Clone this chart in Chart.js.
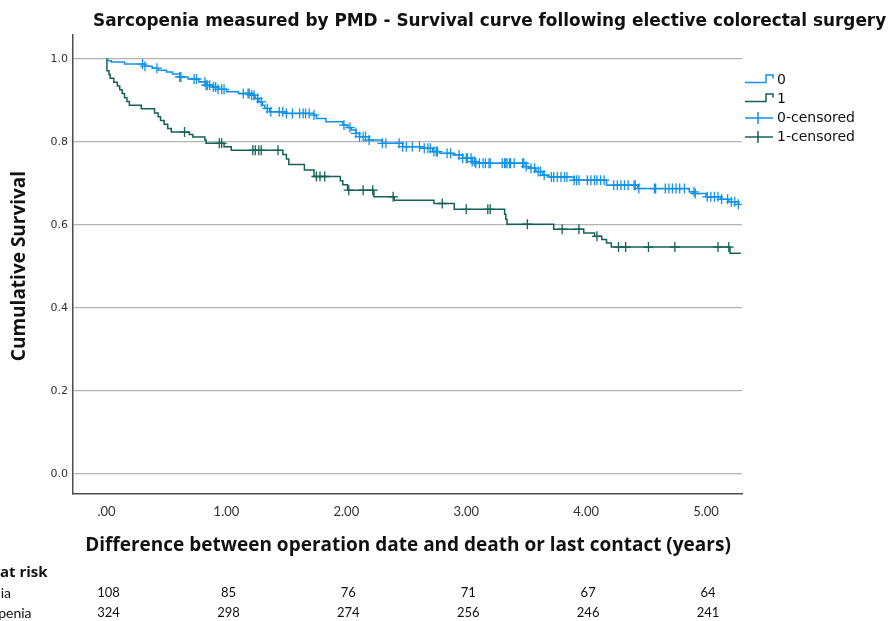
<!DOCTYPE html>
<html>
<head>
<meta charset="utf-8">
<title>Sarcopenia measured by PMD - Survival curve</title>
<script src="https://cdn.jsdelivr.net/npm/chart.js@4.4.1/dist/chart.umd.min.js"></script>
<style>
  html, body { margin: 0; padding: 0; background: #fff; }
  #wrap { width: 891px; height: 621px; position: relative; }
</style>
</head>
<body>
<div id="wrap"><canvas id="kmChart"></canvas></div>
<script>
// --------------------
// DATA
// --------------------
// group 0 = no sarcopenia (blue), group 1 = sarcopenia (teal)
const blueTimes = [0, 0.01, 0.04, 0.15, 0.32, 0.38, 0.43, 0.50, 0.55, 0.61, 0.68, 0.77, 0.83, 0.88, 0.93, 1.00,
  1.10, 1.20, 1.24, 1.27, 1.30, 1.32, 1.36, 1.50, 1.73, 1.75, 1.83, 1.97, 2.01, 2.04, 2.08, 2.11, 2.19, 2.30,
  2.47, 2.62, 2.72, 2.78, 2.89, 2.97, 3.05, 3.08, 3.50, 3.52, 3.58, 3.64, 3.69, 3.90, 4.17, 4.43, 4.86, 4.91,
  5.00, 5.12, 5.19, 5.27, 5.28];
const blueSurv = [1, 0.996, 0.993, 0.988, 0.983, 0.978, 0.973, 0.969, 0.964, 0.957, 0.952, 0.945, 0.937, 0.933, 0.927, 0.921,
  0.917, 0.913, 0.905, 0.897, 0.889, 0.881, 0.873, 0.869, 0.865, 0.857, 0.849, 0.841, 0.835, 0.829, 0.821, 0.813, 0.805, 0.797,
  0.789, 0.785, 0.777, 0.773, 0.769, 0.761, 0.753, 0.749, 0.741, 0.737, 0.729, 0.720, 0.716, 0.708, 0.696, 0.688, 0.680, 0.676,
  0.668, 0.662, 0.656, 0.650, 0.650];
const blueCensored = [0.30, 0.32, 0.42, 0.61, 0.62, 0.73, 0.75, 0.82, 0.83, 0.84, 0.86, 0.89, 0.91, 0.93, 0.96, 0.98,
  1.14, 1.18, 1.19, 1.21, 1.23, 1.26, 1.29, 1.34, 1.37, 1.44, 1.47, 1.50, 1.55, 1.61, 1.64, 1.66, 1.69, 1.73,
  1.98, 2.03, 2.08, 2.11, 2.14, 2.16, 2.19, 2.30, 2.33, 2.44, 2.47, 2.50, 2.55, 2.61, 2.65, 2.68, 2.70, 2.73,
  2.75, 2.76, 2.84, 2.87, 2.94, 2.97, 3.00, 3.01, 3.04, 3.05, 3.07, 3.08, 3.11, 3.14, 3.16, 3.19, 3.20, 3.30,
  3.32, 3.33, 3.34, 3.36, 3.37, 3.40, 3.47, 3.48, 3.50, 3.54, 3.57, 3.60, 3.62, 3.65, 3.71, 3.73, 3.76, 3.79,
  3.82, 3.84, 3.90, 3.92, 3.94, 4.01, 4.04, 4.07, 4.09, 4.12, 4.15, 4.23, 4.26, 4.29, 4.32, 4.35, 4.40, 4.41,
  4.44, 4.57, 4.58, 4.66, 4.69, 4.72, 4.75, 4.78, 4.82, 4.90, 4.91, 5.01, 5.04, 5.07, 5.10, 5.13, 5.18, 5.21,
  5.24, 5.27];

const tealTimes = [0, 0.003, 0.02, 0.03, 0.06, 0.09, 0.11, 0.13, 0.15, 0.17, 0.19, 0.29, 0.40, 0.43, 0.45, 0.48,
  0.51, 0.54, 0.69, 0.72, 0.82, 0.83, 0.98, 1.04, 1.47, 1.50, 1.52, 1.65, 1.73, 1.95, 1.97, 2.01, 2.23, 2.40,
  2.73, 2.90, 3.32, 3.33, 3.34, 3.73, 3.98, 4.07, 4.13, 4.17, 4.21, 5.20, 5.29];
const tealSurv = [1, 0.972, 0.963, 0.954, 0.944, 0.935, 0.926, 0.917, 0.907, 0.898, 0.889, 0.880, 0.870, 0.861, 0.852, 0.843,
  0.833, 0.824, 0.818, 0.812, 0.805, 0.797, 0.789, 0.780, 0.770, 0.759, 0.746, 0.733, 0.717, 0.707, 0.697, 0.684, 0.668, 0.660,
  0.652, 0.638, 0.626, 0.614, 0.602, 0.590, 0.581, 0.573, 0.565, 0.557, 0.547, 0.532, 0.532];
const tealCensored = [0.65, 0.94, 0.96, 1.22, 1.24, 1.27, 1.29, 1.43, 1.75, 1.78, 1.82, 2.02, 2.14, 2.22, 2.39,
  2.80, 3.00, 3.18, 3.20, 3.51, 3.80, 3.94, 4.09, 4.27, 4.33, 4.52, 4.74, 5.10, 5.19];

const xTicks = [0, 1, 2, 3, 4, 5];
const xTickLabels = [".00", "1.00", "2.00", "3.00", "4.00", "5.00"];
const yTicks = [0, 0.2, 0.4, 0.6, 0.8, 1.0];

const legendLabels = ["0", "1", "0-censored", "1-censored"];
const riskHeader = "Number at risk";
const riskRowLabels = ["Sarcopenia", "No sarcopenia"];
const riskSarcopenia = [108, 85, 76, 71, 67, 64];
const riskNoSarcopenia = [324, 298, 274, 256, 246, 241];

const titleText = "Sarcopenia measured by PMD - Survival curve following elective colorectal surgery";
const xTitle = "Difference between operation date and death or last contact (years)";
const yTitle = "Cumulative Survival";

const BLUE = "#1192e8";
const TEAL = "#16605a";

// --------------------
// HELPERS
// --------------------
function toPoints(times, surv) {
  return times.map((t, i) => ({ x: t, y: surv[i] }));
}

// survival level of a step curve at time t (censor marks sit on the curve)
function levelAt(times, surv, t) {
  let s = surv[0];
  for (let i = 0; i < times.length; i++) {
    if (times[i] <= t) s = surv[i];
  }
  return s;
}

function censorPoints(censored, times, surv) {
  return censored.map(t => ({ x: t, y: levelAt(times, surv, t) }));
}

// --------------------
// EXTRA TEXT: title, axis titles, legend, numbers at risk
// --------------------
const extrasPlugin = {
  id: "extras",
  afterDraw(chart) {
    const ctx = chart.ctx;
    const xs = chart.scales.x;
    ctx.save();

    // title
    ctx.fillStyle = "#111";
    ctx.font = 'bold 16.9px "DejaVu Sans"';
    ctx.textAlign = "left";
    ctx.textBaseline = "middle";
    ctx.fillText(titleText, 93, 22);

    // y title
    ctx.save();
    ctx.translate(20, 266);
    ctx.rotate(-Math.PI / 2);
    ctx.textAlign = "center";
    ctx.font = 'bold 19px "Open Sans"';
    ctx.fillText(yTitle, 0, 0);
    ctx.restore();

    // x title
    ctx.textAlign = "center";
    ctx.font = 'bold 19px "Open Sans"';
    ctx.fillText(xTitle, 408, 546);

    // legend
    const rows = [80, 99, 118, 137];
    const lx = 745;
    ctx.lineWidth = 1.5;
    [BLUE, TEAL].forEach((c, i) => {
      const y = rows[i];
      ctx.strokeStyle = c;
      ctx.beginPath();
      ctx.moveTo(lx, y + 2.5);
      ctx.lineTo(lx + 21, y + 2.5);
      ctx.lineTo(lx + 21, y - 5);
      ctx.lineTo(lx + 28, y - 5);
      ctx.lineTo(lx + 28, y - 1.5);
      ctx.stroke();
    });
    [BLUE, TEAL].forEach((c, i) => {
      const y = rows[i + 2];
      ctx.strokeStyle = c;
      ctx.beginPath();
      ctx.moveTo(lx, y);
      ctx.lineTo(lx + 28, y);
      ctx.moveTo(lx + 13, y - 6);
      ctx.lineTo(lx + 13, y + 6);
      ctx.stroke();
    });
    ctx.fillStyle = "#111";
    ctx.font = '14px "DejaVu Sans"';
    ctx.textAlign = "left";
    legendLabels.forEach((lab, i) => ctx.fillText(lab, 777, rows[i]));

    // numbers at risk
    ctx.font = 'bold 15px "Open Sans"';
    ctx.textAlign = "left";
    ctx.fillText(riskHeader, -ctx.measureText("Number ").width, 573);
    ctx.font = '14px Lato';
    const labelLeft = 11 - ctx.measureText(riskRowLabels[0]).width;
    ctx.fillText(riskRowLabels[0], labelLeft, 593);
    ctx.fillText(riskRowLabels[1], labelLeft, 613);
    ctx.font = '13px Lato';
    ctx.textAlign = "center";
    xTicks.forEach((v, i) => {
      const px = xs.getPixelForValue(v) + 2;
      ctx.fillText(String(riskSarcopenia[i]), px, 593);
      ctx.fillText(String(riskNoSarcopenia[i]), px, 613);
    });

    ctx.restore();
  }
};

// --------------------
// CHART
// --------------------
const ctx = document.getElementById("kmChart").getContext("2d");

new Chart(ctx, {
  type: "line",
  data: {
    datasets: [
      {
        label: "0",
        data: toPoints(blueTimes, blueSurv),
        borderColor: BLUE,
        borderWidth: 1.5,
        stepped: true,
        pointRadius: 0,
        fill: false
      },
      {
        label: "1",
        data: toPoints(tealTimes, tealSurv),
        borderColor: TEAL,
        borderWidth: 1.5,
        stepped: true,
        pointRadius: 0,
        fill: false
      },
      {
        label: "0-censored",
        data: censorPoints(blueCensored, blueTimes, blueSurv),
        showLine: false,
        pointStyle: "cross",
        pointRadius: 5,
        pointBorderWidth: 1.3,
        pointBorderColor: BLUE,
        borderColor: BLUE
      },
      {
        label: "1-censored",
        data: censorPoints(tealCensored, tealTimes, tealSurv),
        showLine: false,
        pointStyle: "cross",
        pointRadius: 5,
        pointBorderWidth: 1.3,
        pointBorderColor: TEAL,
        borderColor: TEAL
      }
    ]
  },
  options: {
    responsive: true,
    maintainAspectRatio: false,
    animation: false,
    layout: { padding: { top: 35, right: 149, left: 0, bottom: 0 } },
    plugins: {
      legend: { display: false },
      tooltip: { enabled: false }
    },
    scales: {
      x: {
        type: "linear",
        min: -0.28,
        max: 5.30,
        afterBuildTicks: s => { s.ticks = xTicks.map(v => ({ value: v })); },
        afterFit: s => { s.height = 127; },
        grid: { display: false, drawTicks: false },
        border: { display: true, color: "#4d4d4d", width: 1.5 },
        ticks: {
          padding: 10,
          autoSkip: false,
          maxRotation: 0,
          color: "#333",
          font: { family: "Lato", size: 13 },
          callback: (v, i) => xTickLabels[i]
        }
      },
      y: {
        type: "linear",
        min: -0.048,
        max: 1.058,
        afterBuildTicks: s => { s.ticks = yTicks.map(v => ({ value: v })); },
        afterFit: s => { s.width = 73; },
        grid: { color: "#b4b4b4", lineWidth: 1.2, drawTicks: false },
        border: { display: true, color: "#4d4d4d", width: 1.5 },
        ticks: {
          padding: 5,
          color: "#333",
          font: { family: "DejaVu Sans", size: 11 },
          callback: v => v.toFixed(1)
        }
      }
    }
  },
  plugins: [extrasPlugin]
});
</script>
</body>
</html>
